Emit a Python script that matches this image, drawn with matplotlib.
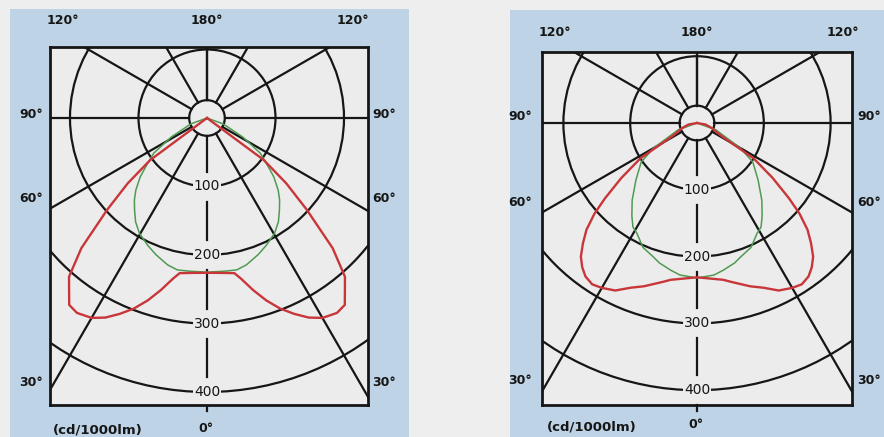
#!/usr/bin/env python3
"""Two photometric polar diagrams (cd/1000lm), side by side."""

import matplotlib

matplotlib.use("Agg")
import matplotlib.pyplot as plt
import numpy as np
from matplotlib.patches import Circle, Rectangle

W, H = 884, 437
PAGE = "#eeeeee"
PANEL_BLUE = "#bed4e6"
BOX_FILL = "#ececec"
INK = "#161616"
RED = "#c8363a"
GREEN = "#4f9a52"

# grid: rings in cd/1000lm, spokes in degrees from nadir
RINGS = [100, 200, 300, 400]
HUB = 26
SPOKES = [30, 60, 90, 120, 150, 180]

# half curves (symmetric about nadir), angle in degrees -> cd/1000lm
LEFT_RED_ANG = [0, 5, 10, 12, 15, 18, 21, 24, 27, 30, 33.7, 36.4, 38.7, 41, 44, 47.4, 50.5, 53.5, 54, 90]
LEFT_RED_CD = [226, 227, 230, 240, 260, 280, 298, 313, 327, 337, 342, 339, 322, 307, 264, 198, 150, 103, 0, 0]
LEFT_GREEN_ANG = [0, 6, 11, 15, 20.5, 25, 30.4, 34.5, 38.2, 41.5, 44.6, 48.6, 52, 56.6, 62, 70, 90]
LEFT_GREEN_CD = [225, 225, 226, 222, 213, 205, 195, 184, 171, 160, 148, 130, 112, 93, 59, 25, 0]

RIGHT_RED_ANG = [0, 9.5, 12, 18, 22, 26, 30, 33, 36, 38.5, 41, 43.5, 46, 48.5, 50.7, 54, 58, 59.5, 62, 65, 71, 80, 90]
RIGHT_RED_CD = [231, 238, 243, 257, 266, 279, 285, 288, 284, 276, 265, 248, 230, 205, 178, 140, 100, 65, 42, 32, 24, 13, 0]
RIGHT_GREEN_ANG = [0, 6.4, 10, 15, 18, 23.5, 28.6, 31.6, 35, 40, 47, 55, 60, 70, 90]
RIGHT_GREEN_CD = [232, 229, 224, 217, 211, 203, 188, 183, 170, 151, 125, 102, 75, 30, 0]

# pixel layout of each diagram: blue panel, box, pole, px per cd, label spots
PANELS = [
    dict(blue=(10, 9, 409, 437), box=(50, 47, 368, 405), pole=(207, 118), scale=0.685,
         top_y=20, side_l=31, side_r=384, side_y=(114, 198, 383),
         top_x=(63, 207, 353), unit=(98, 430), zero=(206, 428),
         red=(LEFT_RED_ANG, LEFT_RED_CD), green=(LEFT_GREEN_ANG, LEFT_GREEN_CD)),
    dict(blue=(510, 10, 884, 437), box=(542, 52, 852, 405), pole=(697, 123), scale=0.668,
         top_y=32, side_l=520, side_r=869, side_y=(117, 202, 380),
         top_x=(555, 697, 843), unit=(592, 427), zero=(696, 425),
         red=(RIGHT_RED_ANG, RIGHT_RED_CD), green=(RIGHT_GREEN_ANG, RIGHT_GREEN_CD)),
]


def mirror(ang, cd):
    ang = np.asarray(ang, dtype=float)
    cd = np.asarray(cd, dtype=float)
    a = np.concatenate([-ang[::-1], ang[1:]])
    r = np.concatenate([cd[::-1], cd[1:]])
    t = np.radians(a)
    return r * np.sin(t), -r * np.cos(t)


def ftext(fig, x, y, s, **kw):
    fig.text(x / W, 1 - y / H, s, ha="center", va="center", color=INK,
             fontweight="bold", zorder=3, **kw)


def draw_panel(fig, p):
    bl, bt, br, bb = p["blue"]
    fig.patches.append(Rectangle((bl / W, 1 - bb / H), (br - bl) / W, (bb - bt) / H,
                                 transform=fig.transFigure, fc=PANEL_BLUE, ec="none", zorder=-5))

    l, t, r, b = p["box"]
    cx, cy = p["pole"]
    s = p["scale"]
    ax = fig.add_axes([l / W, 1 - b / H, (r - l) / W, (b - t) / H])
    ax.set_zorder(2)
    ax.set_facecolor(BOX_FILL)
    ax.set_xlim((l - cx) / s, (r - cx) / s)
    ax.set_ylim(-(b - cy) / s, (cy - t) / s)
    ax.set_xticks([])
    ax.set_yticks([])
    for sp in ax.spines.values():
        sp.set_linewidth(2.0)
        sp.set_color(INK)
        sp.set_zorder(6)

    lw = 1.6
    for rr in RINGS + [HUB]:
        ax.add_patch(Circle((0, 0), rr, fill=False, ec=INK, lw=lw, zorder=2))
    for a in SPOKES:
        for sgn in (1, -1):
            t_ = np.radians(sgn * a)
            ax.plot([HUB * np.sin(t_), 900 * np.sin(t_)],
                    [-HUB * np.cos(t_), -900 * np.cos(t_)], color=INK, lw=lw, zorder=2)

    # nadir line, broken around the ring labels
    gap = 15 / s
    stops = [HUB] + [v for rr in RINGS for v in (rr - gap, rr + gap)] + [(b - cy + 6) / s]
    for y0, y1 in zip(stops[0::2], stops[1::2]):
        ax.plot([0, 0], [-y0, -y1], color=INK, lw=lw, zorder=2, clip_on=False)
    for rr in RINGS:
        ax.text(0, -rr, str(rr), ha="center", va="center", fontsize=10, color=INK, zorder=5,
                bbox=dict(fc=BOX_FILL, ec="none", pad=0.6))

    gx, gy = mirror(*p["green"])
    ax.plot(gx, gy, color=GREEN, lw=1.1, zorder=3)
    rx, ry = mirror(*p["red"])
    ax.plot(rx, ry, color=RED, lw=1.7, zorder=4, solid_joinstyle="round")

    for x, lab in zip(p["top_x"], ["120°", "180°", "120°"]):
        ftext(fig, x, p["top_y"], lab, fontsize=9)
    for y, lab in zip(p["side_y"], ["90°", "60°", "30°"]):
        ftext(fig, p["side_l"], y, lab, fontsize=9)
        ftext(fig, p["side_r"], y, lab, fontsize=9)
    ftext(fig, *p["unit"], "(cd/1000lm)", fontsize=9.5)
    ftext(fig, *p["zero"], "0°", fontsize=9)


def main():
    fig = plt.figure(figsize=(W / 100, H / 100), dpi=100)
    fig.patch.set_facecolor(PAGE)
    for p in PANELS:
        draw_panel(fig, p)
    fig.savefig("out.png", dpi=100, facecolor=PAGE)


if __name__ == "__main__":
    main()
